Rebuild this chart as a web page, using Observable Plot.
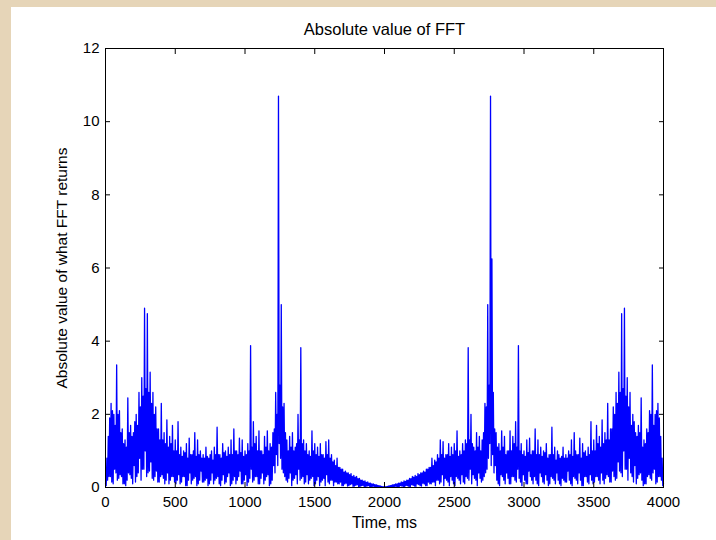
<!DOCTYPE html>
<html><head><meta charset="utf-8">
<script src="https://cdn.jsdelivr.net/npm/d3@7"></script>
<script src="https://cdn.jsdelivr.net/npm/@observablehq/plot@0.6"></script>
<style>
html,body{margin:0;padding:0;background:#e6d5b8;width:716px;height:540px;overflow:hidden}
#fig{position:absolute;left:11px;top:7px;width:705px;height:533px;background:#fff}
</style></head><body><div id="fig"></div>
<script>
const titleText = "Absolute value of FFT";
const xLabel = "Time, ms";
const yLabel = "Absolute value of what FFT returns";
const xTicks = [0, 500, 1000, 1500, 2000, 2500, 3000, 3500, 4000];
const yTicks = [0, 2, 4, 6, 8, 10, 12];
const sampleStepMs = 5;
// |FFT| samples, one every 5 ms; each line covers 100 ms.
// First half: t = 0 … 2000 ms
const absFFTLeft = [
  0.1,0.05,0.8,0.2, 1.4,0.3,1.9,0.3, 2.3,0.15,2.1,0.1, 2.0,0.5,1.7,0.4, 3.35,0.2,2.0,0.25,
  2.1,0.35,1.5,0.3, 1.6,0.1,1.2,0.1, 1.3,0.05,1.1,0.2, 2.45,0.4,1.5,0.35, 1.7,0.25,1.4,0.1,
  1.5,0.6,1.8,0.15, 2.0,0.3,1.7,0.4, 2.6,0.8,2.2,0.2, 3.0,0.5,2.5,0.5, 4.9,1.0,2.7,0.3,
  4.75,0.4,2.6,0.45, 3.15,0.7,2.3,0.25, 2.6,0.2,2.0,0.3, 2.2,0.45,1.6,0.15, 1.6,0.15,1.3,0.3,
  2.3,0.35,1.3,0.25, 1.5,0.1,1.2,0.2, 1.85,0.4,1.1,0.1, 1.4,0.2,1.2,0.3, 1.7,0.3,1.0,0.15,
  1.3,0.1,1.0,0.2, 1.8,0.35,0.9,0.1, 1.1,0.15,0.85,0.3, 1.0,0.3,0.95,0.05, 1.2,0.05,0.8,0.2,
  1.35,0.4,0.9,0.1, 0.9,0.2,1.0,0.25, 1.5,0.3,0.85,0.05, 1.3,0.1,0.9,0.2, 1.0,0.45,0.8,0.15,
  0.9,0.15,0.8,0.2, 1.1,0.25,0.85,0.05, 0.8,0.1,0.9,0.2, 1.0,0.4,0.75,0.1, 1.1,0.2,0.9,0.25,
  1.65,0.3,0.9,0.1, 0.9,0.05,0.8,0.2, 1.2,0.35,0.95,0.1, 1.0,0.15,0.85,0.3, 1.1,0.4,0.9,0.05,
  1.3,0.1,0.9,0.2, 1.6,0.3,1.0,0.1, 1.0,0.2,0.9,0.3, 1.35,0.45,0.95,0.1, 1.3,0.1,0.85,0.2,
  1.0,0.35,0.9,0.05, 1.2,0.15,1.0,0.25, 3.88,0.5,1.1,0.15, 1.8,0.2,1.2,0.3, 1.4,0.3,1.0,0.1,
  1.55,0.1,1.0,0.25, 1.0,0.4,0.9,0.1, 1.4,0.2,1.1,0.3, 1.55,0.35,1.0,0.05, 1.2,0.1,1.1,0.2,
  1.5,0.6,1.6,0.4, 2.6,0.9,2.0,0.6, 10.7,1.2,2.8,0.8, 5.0,0.5,2.2,0.4, 2.3,0.3,1.5,0.2,
  1.3,0.15,1.0,0.25, 1.4,0.4,1.1,0.05, 1.5,0.2,1.0,0.25, 1.1,0.35,1.2,0.1, 2.0,0.5,1.3,0.2,
  3.82,0.25,1.2,0.3, 1.3,0.1,1.0,0.15, 1.2,0.35,0.9,0.1, 1.0,0.2,0.85,0.25, 1.55,0.3,1.0,0.05,
  1.2,0.1,0.9,0.2, 1.1,0.3,0.85,0.05, 1.2,0.15,0.9,0.2, 0.9,0.25,0.8,0.05, 1.25,0.35,0.9,0.15,
  1.3,0.1,0.8,0.2, 0.9,0.2,0.7,0.05, 0.75,0.15,0.6,0.15, 0.8,0.1,0.55,0.1, 0.55,0.15,0.5,0.05,
  0.5,0.05,0.42,0.1, 0.45,0.12,0.4,0.04, 0.4,0.05,0.35,0.08, 0.38,0.1,0.3,0.03, 0.33,0.04,0.28,0.06,
  0.3,0.08,0.24,0.02, 0.25,0.03,0.2,0.05, 0.2,0.06,0.17,0.02, 0.18,0.03,0.14,0.04, 0.15,0.05,0.12,0.02,
  0.12,0.02,0.1,0.03, 0.1,0.03,0.08,0.01, 0.08,0.01,0.06,0.02, 0.05,0.02,0.04,0.01, 0.03,0.01,0.02,0.01,
  0.02
];
// Second half: t = 2005 … 4000 ms
const absFFTRight = [
  0.01,0.02,0.01,0.03, 0.01,0.04,0.02,0.05, 0.02,0.06,0.01,0.08, 0.01,0.08,0.03,0.1, 0.03,0.1,0.02,0.12,
  0.02,0.12,0.05,0.15, 0.04,0.14,0.03,0.18, 0.02,0.17,0.06,0.2, 0.05,0.2,0.03,0.25, 0.02,0.24,0.08,0.3,
  0.06,0.28,0.04,0.33, 0.03,0.3,0.1,0.38, 0.08,0.35,0.05,0.4, 0.04,0.4,0.12,0.45, 0.1,0.42,0.05,0.5,
  0.05,0.5,0.15,0.55, 0.1,0.55,0.1,0.8, 0.15,0.6,0.15,0.75, 0.05,0.7,0.2,0.9, 0.2,0.8,0.1,1.3,
  0.15,0.9,0.35,1.25, 0.05,0.8,0.25,0.9, 0.2,0.9,0.15,1.2, 0.05,0.85,0.3,1.1, 0.2,0.9,0.1,1.2,
  0.05,1.0,0.3,1.55, 0.25,0.85,0.2,1.0, 0.1,0.9,0.35,1.2, 0.15,1.0,0.1,1.3, 0.3,1.2,0.25,3.82,
  0.2,1.3,0.5,2.0, 0.1,1.2,0.35,1.1, 0.25,1.0,0.2,1.5, 0.05,1.1,0.4,1.4, 0.25,1.0,0.15,1.3,
  0.2,1.5,0.3,2.3, 0.4,2.2,0.5,5.0, 0.8,2.8,1.2,10.7, 0.6,6.25,0.9,2.6, 0.4,1.6,0.6,1.5,
  0.2,1.1,0.1,1.2, 0.05,1.0,0.35,1.55, 0.3,1.1,0.2,1.4, 0.1,0.9,0.4,1.0, 0.25,1.0,0.1,1.55,
  0.1,1.0,0.3,1.4, 0.3,1.2,0.2,1.8, 0.15,1.1,0.5,3.88, 0.25,1.0,0.15,1.2, 0.05,0.9,0.35,1.0,
  0.2,0.85,0.1,1.3, 0.1,0.95,0.45,1.35, 0.3,0.9,0.2,1.0, 0.1,1.0,0.3,1.6, 0.2,0.9,0.1,1.3,
  0.05,0.9,0.4,1.1, 0.3,0.85,0.15,1.0, 0.1,0.95,0.35,1.2, 0.2,0.8,0.05,0.9, 0.1,0.9,0.3,1.65,
  0.25,0.9,0.2,1.1, 0.1,0.75,0.4,1.0, 0.2,0.9,0.1,0.8, 0.05,0.85,0.25,1.1, 0.2,0.8,0.15,0.9,
  0.15,0.8,0.45,1.0, 0.2,0.9,0.1,1.3, 0.05,0.85,0.3,1.5, 0.25,1.0,0.2,0.9, 0.1,0.9,0.4,1.35,
  0.2,0.8,0.05,1.2, 0.05,0.95,0.3,1.0, 0.3,0.85,0.15,1.1, 0.1,0.9,0.35,1.8, 0.2,1.0,0.1,1.3,
  0.15,1.0,0.3,1.7, 0.3,1.2,0.2,1.4, 0.1,1.1,0.4,1.85, 0.2,1.2,0.1,1.5, 0.25,1.3,0.35,2.3,
  0.3,1.3,0.15,1.6, 0.15,1.6,0.45,2.2, 0.3,2.0,0.2,2.6, 0.25,2.3,0.7,3.15, 0.45,2.6,0.4,4.75,
  0.3,2.7,1.0,4.9, 0.5,2.5,0.5,3.0, 0.2,2.2,0.8,2.6, 0.4,1.7,0.3,2.0, 0.15,1.8,0.6,1.5,
  0.1,1.4,0.25,1.7, 0.35,1.5,0.4,2.45, 0.2,1.1,0.05,1.3, 0.1,1.2,0.1,1.6, 0.3,1.5,0.35,2.1,
  0.25,2.0,0.2,3.35, 0.4,1.7,0.5,2.0, 0.1,2.1,0.15,2.3, 0.3,1.9,0.3,1.4, 0.2,0.8,0.05,0.1
];
const series = [...absFFTLeft, ...absFFTRight].map((v, i) => ({t: i * sampleStepMs, v}));

const font = "Arial, 'Liberation Sans', Helvetica, sans-serif";
const plot = Plot.plot({
  width: 705, height: 533,
  marginLeft: 94, marginTop: 41, marginRight: 53, marginBottom: 53,
  style: {fontFamily: font, fontSize: "15px", background: "white", color: "black", overflow: "visible"},
  x: {domain: [0, 4000]},
  y: {domain: [0, 12]},
  marks: [
    Plot.line(series, {x: "t", y: "v", stroke: "#0000ff", strokeWidth: 1.3}),
    Plot.frame({stroke: "black"}),
    Plot.axisX({ticks: xTicks, tickSize: -5, tickPadding: 14, tickFormat: d => String(d), label: null}),
    Plot.axisX({anchor: "top", ticks: xTicks, tickSize: -5, tickFormat: () => "", label: null}),
    Plot.axisY({ticks: yTicks, tickSize: -5, tickPadding: 11, tickFormat: d => String(d), label: null}),
    Plot.axisY({anchor: "right", ticks: yTicks, tickSize: -5, tickFormat: () => "", label: null}),
    Plot.text([titleText], {text: d => d, frameAnchor: "top", dy: -19, lineAnchor: "middle", fontSize: 16.5}),
    Plot.text([xLabel], {text: d => d, frameAnchor: "bottom", dy: 35, lineAnchor: "middle", fontSize: 16}),
    Plot.text([yLabel], {text: d => d, frameAnchor: "left", dx: -43, rotate: -90, textAnchor: "middle", lineAnchor: "middle", fontSize: 15.5})
  ]
});
document.getElementById("fig").appendChild(plot);
</script>
</body></html>
